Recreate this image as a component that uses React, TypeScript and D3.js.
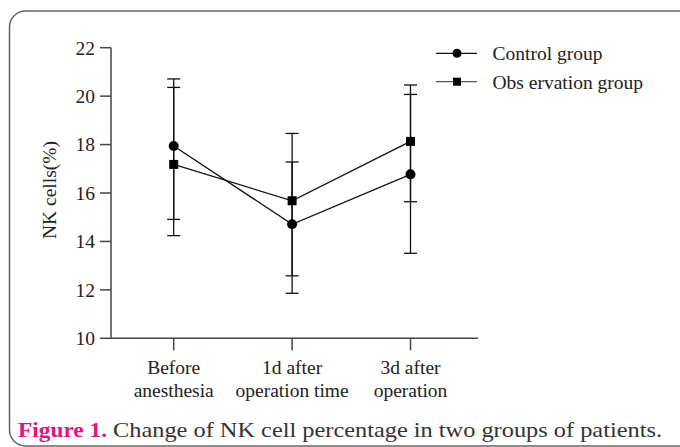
import React from "react";
import * as d3 from "d3";

const categories = ["Before|anesthesia", "1d after|operation time", "3d after|operation"];
const controlMean = [17.94, 14.71, 16.77];
const controlHigh = [20.71, 17.28, 20.07];
const controlLow = [14.91, 11.86, 13.51];
const obsMean = [17.18, 15.68, 18.13];
const obsHigh = [20.36, 18.46, 20.46];
const obsLow = [14.24, 12.58, 15.64];
const yTicks = [10, 12, 14, 16, 18, 20, 22];
const seriesNames = ["Control group", "Obs ervation group"];

const W = 680;
const H = 447;
const FONT = "'Liberation Serif', 'Times New Roman', serif";

export default function App() {
  const x = d3.scalePoint<string>().domain(categories).range([173.7, 410.5]);
  const y = d3.scaleLinear().domain([10, 22]).range([338.3, 47.7]);
  const axisLeft = 111;
  const axisRight = 478;
  const line = d3
    .line<number>()
    .x((_, i) => x(categories[i]) as number)
    .y((d) => y(d));

  const capHalf = 6.5;
  const errBar = (hi: number[], lo: number[], key: string) =>
    categories.map((c, i) => {
      const cx = x(c) as number;
      return (
        <g key={key + i} stroke="#111" strokeWidth={1.3}>
          <line x1={cx} x2={cx} y1={y(hi[i])} y2={y(lo[i])} />
          <line x1={cx - capHalf} x2={cx + capHalf} y1={y(hi[i])} y2={y(hi[i])} />
          <line x1={cx - capHalf} x2={cx + capHalf} y1={y(lo[i])} y2={y(lo[i])} />
        </g>
      );
    });

  return (
    <svg
      width={W}
      height={H}
      style={{ position: "absolute", left: 0, top: 0, background: "#fff" }}
      fontFamily={FONT}
    >
      <rect x={9.5} y={11} width={690} height={435} rx={16} fill="none" stroke="#666" strokeWidth={1.5} />

      {/* y axis */}
      <line x1={axisLeft} x2={axisLeft} y1={y(22)} y2={y(10)} stroke="#444" strokeWidth={1.5} />
      {yTicks.map((t) => (
        <g key={t}>
          <line x1={100} x2={axisLeft} y1={y(t)} y2={y(t)} stroke="#444" strokeWidth={1.5} />
          <text x={95} y={y(t)} dy="0.35em" textAnchor="end" fontSize={19.5} fill="#222">
            {t}
          </text>
        </g>
      ))}
      <text
        transform={`translate(56,${190}) rotate(-90)`}
        textAnchor="middle"
        fontSize={19.5}
        fill="#222"
      >
        NK cells(%)
      </text>

      {/* x axis */}
      <line x1={axisLeft} x2={axisRight} y1={y(10)} y2={y(10)} stroke="#444" strokeWidth={1.5} />
      {categories.map((c) => {
        const cx = x(c) as number;
        const [l1, l2] = c.split("|");
        return (
          <g key={c}>
            <line x1={cx} x2={cx} y1={y(10)} y2={y(10) + 12} stroke="#444" strokeWidth={1.5} />
            <text x={cx} y={374} textAnchor="middle" fontSize={19.5} fill="#222">
              {l1}
            </text>
            <text x={cx} y={396.5} textAnchor="middle" fontSize={19.5} fill="#222">
              {l2}
            </text>
          </g>
        );
      })}

      {/* error bars */}
      {errBar(controlHigh, controlLow, "c")}
      {errBar(obsHigh, obsLow, "o")}

      {/* lines */}
      <path d={line(controlMean) || ""} fill="none" stroke="#111" strokeWidth={1.3} />
      <path d={line(obsMean) || ""} fill="none" stroke="#111" strokeWidth={1.3} />

      {controlMean.map((v, i) => (
        <circle key={"cm" + i} cx={x(categories[i]) as number} cy={y(v)} r={5} fill="#000" />
      ))}
      {obsMean.map((v, i) => (
        <rect
          key={"om" + i}
          x={(x(categories[i]) as number) - 4.5}
          y={y(v) - 4.5}
          width={9}
          height={9}
          fill="#000"
        />
      ))}

      {/* legend */}
      <g>
        <line x1={436} x2={477} y1={53.3} y2={53.3} stroke="#111" strokeWidth={1.3} />
        <circle cx={457} cy={53.3} r={4.5} fill="#000" />
        <text x={492.5} y={53.3} dy="0.35em" fontSize={19.5} fill="#222">
          {seriesNames[0]}
        </text>
        <line x1={436} x2={477} y1={81.7} y2={81.7} stroke="#555" strokeWidth={1.3} />
        <rect x={453} y={77.7} width={8} height={8} fill="#000" />
        <text x={492.5} y={81.7} dy="0.35em" fontSize={19.5} fill="#222">
          {seriesNames[1]}
        </text>
      </g>

      {/* caption */}
      <text
        x={18}
        y={437}
        fontSize={22}
        fill="#e5137f"
        fontWeight="bold"
        textLength={89}
        lengthAdjust="spacingAndGlyphs"
      >
        Figure 1.
      </text>
      <text
        x={113}
        y={437}
        fontSize={22}
        fill="#333"
        textLength={549}
        lengthAdjust="spacingAndGlyphs"
      >
        Change of NK cell percentage in two groups of patients.
      </text>
    </svg>
  );
}
